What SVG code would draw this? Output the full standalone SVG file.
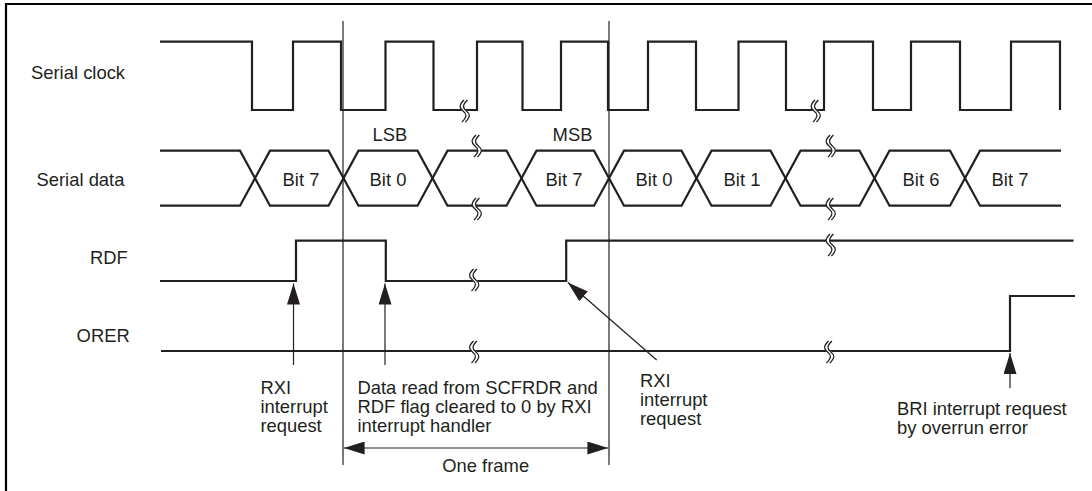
<svg xmlns="http://www.w3.org/2000/svg" xmlns:xlink="http://www.w3.org/1999/xlink" width="1092" height="491" viewBox="0 0 1092 491">
<style>
text{font-family:"Liberation Sans",Arial,sans-serif;font-size:18.4px;fill:#231f20}
.mid{text-anchor:middle}
.sig{fill:none;stroke:#231f20;stroke-width:2.2;stroke-linejoin:miter}
.thin{fill:none;stroke:#231f20;stroke-width:1.2}
.arr{fill:none;stroke:#231f20;stroke-width:1.2}
.frame{fill:none;stroke:#000;stroke-width:2.2}
</style>
<defs>
<marker id="ah" viewBox="0 0 21 13" refX="21" refY="6.5" markerWidth="21" markerHeight="13" markerUnits="userSpaceOnUse" orient="auto-start-reverse">
<path d="M0,0 L21,6.5 L0,13 z" fill="#231f20"/>
</marker>
<g id="brk">
<path d="M2.7,-11 C-2.3,-6 -2.3,-3 1.7,0 C5.7,3 5.7,6 0.7,11" fill="none" stroke="#fff" stroke-width="3.6"/>
<path d="M1,-11 C-4,-6 -4,-3 0,0 C4,3 4,6 -1,11" fill="none" stroke="#231f20" stroke-width="1.3"/>
<path d="M4.4,-11 C-0.6,-6 -0.6,-3 3.4,0 C7.4,3 7.4,6 2.4,11" fill="none" stroke="#231f20" stroke-width="1.3"/>
</g>
</defs>
<rect width="1092" height="491" fill="#fff"/>
<path class="frame" d="M6,491 V4 H1092"/>

<g id="labels">
<text x="31" y="78.5">Serial clock</text>
<text x="36.5" y="186">Serial data</text>
<text x="90" y="264">RDF</text>
<text x="76.6" y="342">ORER</text>
</g>

<g id="serial-clock">
<path class="sig" d="M160,41.7 H252 V110 H293 V41.7 H341 V110 H385.5 V41.7 H433.5 V110 H477 V41.7 H522.5 V110 H561 V41.7 H608 V110 H648 V41.7 H696 V110 H738.5 V41.7 H786 V110 H824 V41.7 H873 V110 H911 V41.7 H960 V110 H1011 V41.7 H1060 V110"/>
<use xlink:href="#brk" x="463" y="111"/>
<use xlink:href="#brk" x="814" y="111"/>
</g>

<g id="serial-data">
<path class="sig" d="M160,150.7 H240 L270,205.7 H328.5 L358.5,150.7 H417.5 L447.5,205.7 H506.5 L536.5,150.7 H594 L624,205.7 H681.5 L711.5,150.7 H770.5 L800.5,205.7 H859.5 L889.5,150.7 H950 L980,205.7 H1061"/>
<path class="sig" d="M160,205.7 H240 L270,150.7 H328.5 L358.5,205.7 H417.5 L447.5,150.7 H506.5 L536.5,205.7 H594 L624,150.7 H681.5 L711.5,205.7 H770.5 L800.5,150.7 H859.5 L889.5,205.7 H950 L980,150.7 H1061"/>
<use xlink:href="#brk" x="475" y="146"/>
<use xlink:href="#brk" x="475" y="209"/>
<use xlink:href="#brk" x="829" y="146"/>
<use xlink:href="#brk" x="829" y="209"/>
<text class="mid" x="390" y="141">LSB</text>
<text class="mid" x="572.5" y="141">MSB</text>
<text class="mid" x="301" y="186">Bit 7</text>
<text class="mid" x="388" y="186">Bit 0</text>
<text class="mid" x="564" y="186">Bit 7</text>
<text class="mid" x="654" y="186">Bit 0</text>
<text class="mid" x="742" y="186">Bit 1</text>
<text class="mid" x="921" y="186">Bit 6</text>
<text class="mid" x="1010" y="186">Bit 7</text>
</g>

<g id="rdf">
<path class="sig" d="M160,281 H296 V240.7 H385.8 V281 H566.2 V240.7 H1073.5"/>
<use xlink:href="#brk" x="472.5" y="280"/>
<use xlink:href="#brk" x="829" y="245"/>
</g>

<g id="orer">
<path class="sig" d="M161,351 H1010 V296 H1075"/>
<use xlink:href="#brk" x="472.5" y="352"/>
<use xlink:href="#brk" x="827.5" y="352"/>
</g>

<g id="frame-markers">
<line class="thin" x1="343" y1="21" x2="343" y2="465"/>
<line class="thin" x1="609" y1="21" x2="609" y2="465"/>
</g>

<g id="connectors">
<line class="arr" x1="293.5" y1="365" x2="293.5" y2="283.5" marker-end="url(#ah)"/>
<line class="arr" x1="385" y1="365" x2="385" y2="283.5" marker-end="url(#ah)"/>
<line class="arr" x1="656.7" y1="360" x2="567.8" y2="282.5" marker-end="url(#ah)"/>
<line class="arr" x1="1010" y1="388.3" x2="1010" y2="353" marker-end="url(#ah)"/>
<line class="arr" x1="343.6" y1="448" x2="608.4" y2="448" marker-start="url(#ah)" marker-end="url(#ah)"/>
</g>

<g id="annotations">
<text x="260.4" y="394">RXI</text>
<text x="260.4" y="413">interrupt</text>
<text x="260.4" y="432">request</text>
<text x="357.5" y="394">Data read from SCFRDR and</text>
<text x="357.5" y="413">RDF flag cleared to 0 by RXI</text>
<text x="357.5" y="432">interrupt handler</text>
<text x="640" y="387">RXI</text>
<text x="640" y="406">interrupt</text>
<text x="640" y="425">request</text>
<text x="897" y="415">BRI interrupt request</text>
<text x="897" y="434">by overrun error</text>
<text class="mid" x="485.7" y="472">One frame</text>
</g>
</svg>
